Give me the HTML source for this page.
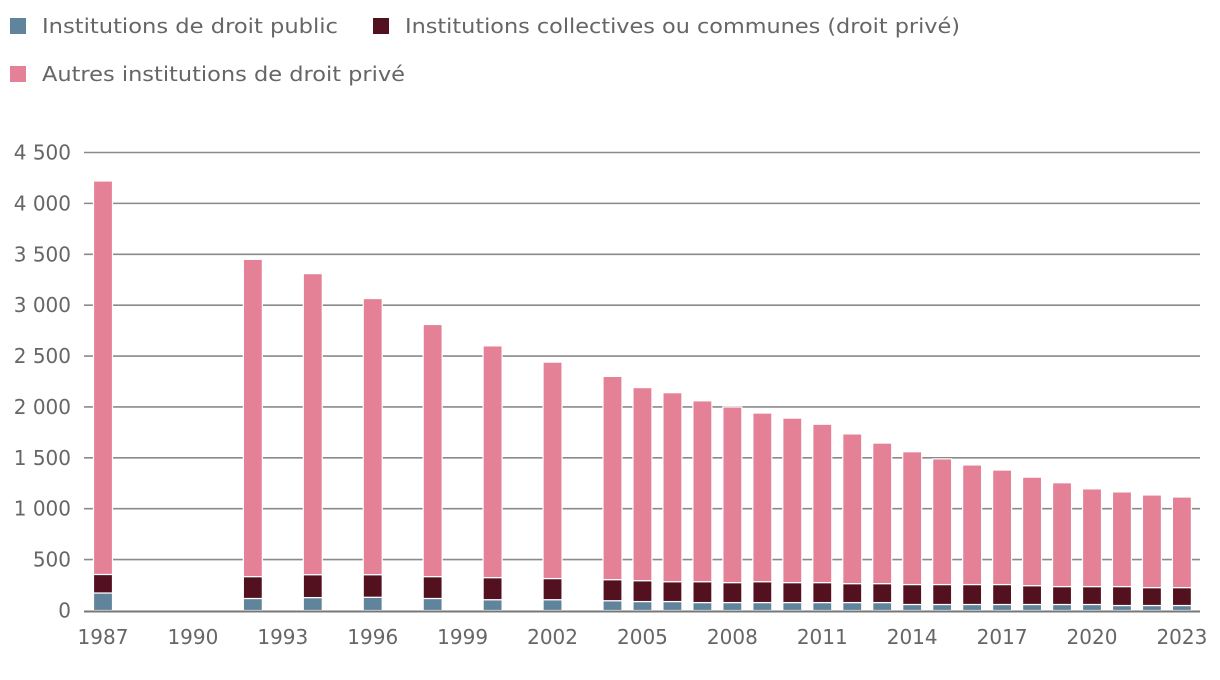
<!DOCTYPE html>
<html><head><meta charset="utf-8"><style>
body{margin:0;background:#fff;font-family:"DejaVu Sans",sans-serif}
svg text{font-family:"DejaVu Sans",sans-serif;fill:#666}
</style></head><body>
<svg width="1220" height="676">
<g>
<g><rect x="10" y="18" width="16" height="16" fill="#60849c"/><text x="42" y="33" font-size="20" textLength="296" lengthAdjust="spacingAndGlyphs">Institutions de droit public</text></g>
<g><rect x="373" y="18" width="16" height="16" fill="#531120"/><text x="405" y="33" font-size="20" textLength="555" lengthAdjust="spacingAndGlyphs">Institutions collectives ou communes (droit privé)</text></g>
<g><rect x="10" y="66" width="16" height="16" fill="#e48196"/><text x="42" y="81" font-size="20" textLength="363" lengthAdjust="spacingAndGlyphs">Autres institutions de droit privé</text></g>
</g>
<g id="grid"></g><g id="bars"></g><g id="axes"></g>
</svg>
<script>
const years=[1987,1992,1994,1996,1998,2000,2002,2004,2005,2006,2007,2008,2009,2010,2011,2012,2013,2014,2015,2016,2017,2018,2019,2020,2021,2022,2023];
const publicVals=[172,118,127,130,118,106,106,96,88,88,78,78,78,78,78,78,78,59,59,59,59,59,59,59,49,49,49];
const collectiveVals=[182,215,225,222,215,217,208,207,205,195,205,196,205,196,196,186,186,196,196,196,196,185,176,176,186,176,176];
const totals=[4220,3450,3310,3065,2810,2600,2440,2300,2190,2140,2060,2000,1940,1890,1830,1735,1645,1560,1490,1430,1380,1310,1255,1195,1165,1135,1115];
const yTicks=[0,500,1000,1500,2000,2500,3000,3500,4000,4500];
const yTickLabels=["0","500","1 000","1 500","2 000","2 500","3 000","3 500","4 000","4 500"];
const xTicks=[1987,1990,1993,1996,1999,2002,2005,2008,2011,2014,2017,2020,2023];
const NS="http://www.w3.org/2000/svg";
const y=v=>610.5-v*0.10178;
const x=yr=>103+(yr-1987)*29.97;
const bw=19;
function mk(tag,attrs,parent){const e=document.createElementNS(NS,tag);for(const k in attrs)e.setAttribute(k,attrs[k]);parent.appendChild(e);return e;}
const grid=document.getElementById('grid'),bars=document.getElementById('bars'),axes=document.getElementById('axes');
yTicks.forEach((t,i)=>{
  if(t>0){const l=mk('line',{x1:84,x2:1200,y1:y(t),y2:y(t),stroke:'#8a8a8a','stroke-width':1.6},grid);
  
  }
  const tx=mk('text',{x:71,y:y(t)+7,'text-anchor':'end','font-size':20},axes);
  tx.textContent=yTickLabels[i];
  
  
});
years.forEach((yr,i)=>{
  const p=publicVals[i],c=collectiveVals[i];
  const segs=[[0,p,'#60849c','bar-public'],[p,p+c,'#531120','bar-collective'],[p+c,totals[i],'#e48196','bar-other']];
  segs.forEach(s=>{
    const r=mk('rect',{x:x(yr)-bw/2,y:y(s[1]),width:bw,height:y(s[0])-y(s[1]),fill:s[2],stroke:'#fff','stroke-width':1.2},bars);
    
    
  });
});
const ax=mk('line',{x1:84,x2:1200,y1:611.5,y2:611.5,stroke:'#777','stroke-width':2},axes);


xTicks.forEach(t=>{
  const tx=mk('text',{x:x(t),y:644,'text-anchor':'middle','font-size':20},axes);
  tx.textContent=t;
  
  
});
</script>
</body></html>
